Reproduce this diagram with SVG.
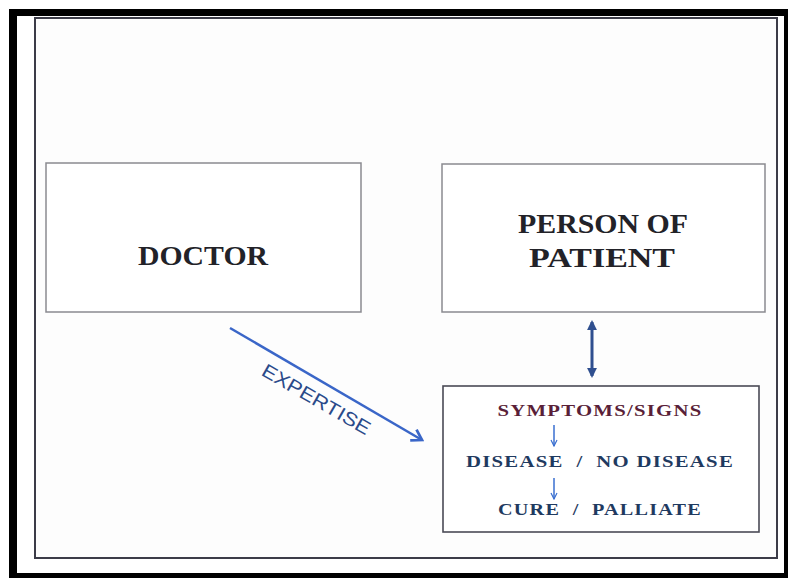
<svg xmlns="http://www.w3.org/2000/svg" width="788" height="578" viewBox="0 0 788 578">
<style>
.box{fill:#fff;stroke:#8a8a90;stroke-width:1.5}
.main{font-family:"Liberation Serif","DejaVu Serif",serif;font-weight:bold;font-size:27px;fill:#222228;text-anchor:middle}
.sub{font-family:"Liberation Serif","DejaVu Serif",serif;font-weight:bold;font-size:16.5px;text-anchor:middle;white-space:pre;letter-spacing:1px}
.lbl{font-family:"Liberation Sans","DejaVu Sans",sans-serif;font-size:19px;fill:#2a4a8a;text-anchor:middle}
</style>
<defs>
<marker id="chev" viewBox="0 0 12 12" refX="10" refY="6" markerWidth="6" markerHeight="6" orient="auto" markerUnits="strokeWidth">
<path d="M2,1 L10,6 L2,11" fill="none" stroke="#3a66c8" stroke-width="2.2"/>
</marker>
<marker id="dbl" viewBox="0 0 10 10" refX="8" refY="5" markerWidth="3.3" markerHeight="3.3" orient="auto-start-reverse" markerUnits="strokeWidth">
<path d="M0,0 L10,5 L0,10 z" fill="#2f4f8f"/>
</marker>
<marker id="small" viewBox="0 0 10 10" refX="9" refY="5" markerWidth="5" markerHeight="5" orient="auto" markerUnits="strokeWidth">
<path d="M1,1 L9,5 L1,9" fill="none" stroke="#3a6fd0" stroke-width="1.6"/>
</marker>
</defs>
<rect x="0" y="0" width="788" height="578" fill="#fff"/>
<g id="frame">
<rect x="9" y="9" width="779" height="569" fill="#000"/>
<rect x="17" y="16" width="767" height="557" fill="#fff"/>
<rect x="35" y="18" width="742" height="540" fill="#fdfdfd" stroke="#3c3c48" stroke-width="2"/>
</g>
<g id="doctor">
<rect class="box" x="46" y="163" width="315" height="149"/>
<text class="main" x="203" y="265" textLength="130" lengthAdjust="spacingAndGlyphs">DOCTOR</text>
</g>
<g id="person">
<rect class="box" x="442" y="164" width="323" height="148"/>
<text class="main" x="603" y="233" textLength="170" lengthAdjust="spacingAndGlyphs">PERSON OF</text>
<text class="main" x="602" y="267" textLength="146" lengthAdjust="spacingAndGlyphs">PATIENT</text>
</g>
<g id="clinical">
<rect x="443" y="386" width="316" height="146" fill="#fff" stroke="#4a4a55" stroke-width="1.6"/>
<text class="sub" x="600" y="416" fill="#5a1f38" textLength="205" lengthAdjust="spacingAndGlyphs">SYMPTOMS/SIGNS</text>
<text class="sub" x="600" y="467" fill="#1f3a60" textLength="268" lengthAdjust="spacingAndGlyphs">DISEASE  /  NO DISEASE</text>
<text class="sub" x="600" y="515" fill="#1f3a60" textLength="204" lengthAdjust="spacingAndGlyphs">CURE  /  PALLIATE</text>
</g>
<g id="connectors">
<line x1="230" y1="328" x2="422" y2="440" stroke="#3a66c8" stroke-width="2.5" marker-end="url(#chev)"/>
<text class="lbl" transform="translate(313,405) rotate(30)" textLength="122" lengthAdjust="spacingAndGlyphs">EXPERTISE</text>
<line x1="592" y1="322" x2="592" y2="376" stroke="#2f4f8f" stroke-width="3" marker-start="url(#dbl)" marker-end="url(#dbl)"/>
<line x1="554" y1="425" x2="554" y2="446" stroke="#3a6fd0" stroke-width="1.5" marker-end="url(#small)"/>
<line x1="554" y1="478" x2="554" y2="499" stroke="#3a6fd0" stroke-width="1.5" marker-end="url(#small)"/>
</g>
</svg>
